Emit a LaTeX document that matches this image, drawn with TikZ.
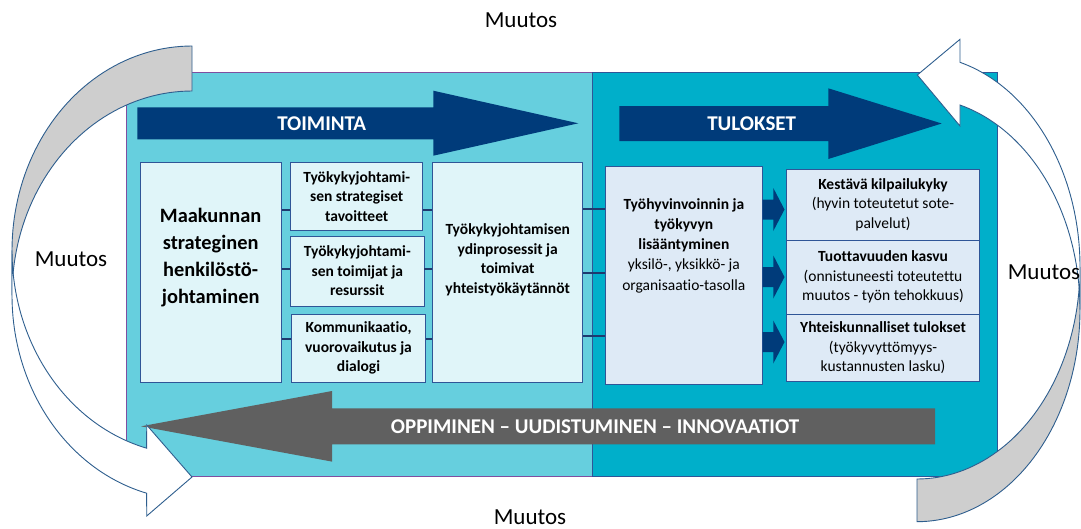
\documentclass[tikz,border=0pt]{standalone}
\usepackage{fontspec}
\setmainfont{Carlito}[Ligatures=NoCommon]
\definecolor{panelL}{HTML}{66CFDE}
\definecolor{panelR}{HTML}{00AFCA}
\definecolor{boxL}{HTML}{E0F5F9}
\definecolor{boxR}{HTML}{DEEAF6}
\definecolor{boxline}{HTML}{2F5597}
\definecolor{navy}{HTML}{003B7A}
\definecolor{stub}{HTML}{1F3A6E}
\definecolor{darkgray}{HTML}{606060}
\definecolor{cgray}{HTML}{CECECE}
\definecolor{cline}{HTML}{2E5E8E}
\definecolor{purpleline}{HTML}{7F4FA0}
\begin{document}
\begin{tikzpicture}[x=1pt,y=-1pt,
  lbox/.style={draw=boxline, line width=0.8pt, fill=boxL, inner sep=0pt, align=center},
  rbox/.style={draw=boxline, line width=0.8pt, fill=boxR, inner sep=0pt, align=center},
  boxfont/.style={font=\fontsize{15.5}{19.6}\selectfont},
  boxbold/.style={font=\fontsize{15.5}{19.6}\selectfont\bfseries},
  stubline/.style={draw=stub, line width=1.8pt},
  muutos/.style={font=\fontsize{23}{27}\selectfont, inner sep=0pt},
  curvefront/.style={fill=white, draw=cline, line width=0.9pt, line join=miter},
  curveback/.style={fill=cgray, draw=cline, line width=0.9pt, line join=miter}]
\useasboundingbox (0,0) rectangle (1081,528);

% two background panels
\node[draw=purpleline, line width=0.8pt, fill=panelL, minimum width=466, minimum height=404, inner sep=0pt] (pleft) at (359,274) {};
\node[draw=boxline, line width=1pt, fill=panelR, minimum width=405, minimum height=404, inner sep=0pt] (pright) at (794.5,274) {};

% header arrows
\fill[navy] (137.3,107.3) -- (433.3,107.3) -- (433.3,90.7) -- (578.3,123.3)
  -- (433.3,155.7) -- (433.3,139.3) -- (137.3,139.3) -- cycle;
\node[text=white, font=\fontsize{21}{25}\selectfont\bfseries] (toiminta) at (321.7,123.5) {TOIMINTA};
\fill[navy] (619.3,106) -- (828.3,106) -- (828.3,88.3) -- (941.7,123.5)
  -- (828.3,159) -- (828.3,141) -- (619.3,141) -- cycle;
\node[text=white, font=\fontsize{21}{25}\selectfont\bfseries] (tulokset) at (751.7,124) {TULOKSET};

% boxes of the left panel
\node[lbox, minimum width=141.3, minimum height=220] (big) at (210.65,272.7) {};
\node[font=\fontsize{20.4}{27}\selectfont\bfseries, align=center] (bigtxt) at (210.65,258)
  {Maakunnan\\strateginen\\henkilöstö-\\johtaminen};
\node[lbox, boxbold, minimum width=132, minimum height=67.3] (b1) at (356.7,196.35)
  {Työkykyjohtami-\\sen strategiset\\tavoitteet};
\node[lbox, boxbold, minimum width=133.3, minimum height=70] (b2) at (357.35,271)
  {Työkykyjohtami-\\sen toimijat ja\\resurssit};
\node[lbox, boxbold, minimum width=133.6, minimum height=68] (b3) at (358.5,348)
  {Kommunikaatio,\\vuorovaikutus ja\\dialogi};
\node[lbox, minimum width=150, minimum height=220] (ydin) at (507.7,272.7) {};
\node[font=\fontsize{15.5}{19.8}\selectfont\bfseries, align=center] (ydintxt) at (507.7,259.8)
  {Työkykyjohtamisen\\ydinprosessit ja\\toimivat\\yhteistyökäytännöt};

% boxes of the right panel
\node[rbox, minimum width=157.7, minimum height=217.3] (hyv) at (683.85,275.35) {};
\node[font=\fontsize{15.5}{20.3}\selectfont, align=center] (hyvtxt) at (683.85,245.5)
  {\textbf{Työhyvinvoinnin ja}\\\textbf{työkyvyn}\\\textbf{lisääntyminen}\\yksilö-, yksikkö- ja\\organisaatio-tasolla};
\node[rbox, boxfont, minimum width=192.6, minimum height=70.7] (r1) at (883,204.65)
  {\textbf{Kestävä kilpailukyky}\\(hyvin toteutetut sote-\\palvelut)};
\node[rbox, boxfont, minimum width=192.6, minimum height=74.3] (r2) at (883,277.15)
  {\textbf{Tuottavuuden kasvu}\\(onnistuneesti toteutettu\\muutos - työn tehokkuus)};
\node[rbox, boxfont, minimum width=192.6, minimum height=67.4] (r3) at (883,348)
  {\textbf{Yhteiskunnalliset tulokset}\\(työkyvyttömyys-\\kustannusten lasku)};

% levels of the short connectors
\coordinate (ya) at (0,210);
\coordinate (yb) at (0,269);
\coordinate (yc) at (0,339);
\coordinate (yd) at (0,209);
\coordinate (ye) at (0,273);
\coordinate (yf) at (0,336);
\draw[stubline] (big.east |- ya) -- (b1.west |- ya);
\draw[stubline] (big.east |- yb) -- (b2.west |- yb);
\draw[stubline] (big.east |- yc) -- (b3.west |- yc);
\draw[stubline] (b1.east |- ya) -- (ydin.west |- ya);
\draw[stubline] (b2.east |- yb) -- (ydin.west |- yb);
\draw[stubline] (b3.east |- yc) -- (ydin.west |- yc);
\draw[stubline] (ydin.east |- yd) -- (hyv.west |- yd);
\draw[stubline] (ydin.east |- ye) -- (hyv.west |- ye);
\draw[stubline] (ydin.east |- yf) -- (hyv.west |- yf);

% block arrows towards the results
\foreach \yy in {209.5,277,342}{
  \fill[navy] (762.7,\yy-10) -- (773.3,\yy-10) -- (773.3,\yy-21.5) -- (784.5,\yy)
    -- (773.3,\yy+21.5) -- (773.3,\yy+10) -- (762.7,\yy+10) -- cycle;
}

% feedback arrow along the bottom
\fill[darkgray] (935,408.3) -- (332,408.3) -- (332,391) -- (141,426.3)
  -- (332,461.6) -- (332,444.3) -- (935,444.3) -- cycle;
\node[text=white, font=\fontsize{21}{25}\selectfont\bfseries] (oppi) at (595,426.5)
  {OPPIMINEN – UUDISTUMINEN – INNOVAATIOT};

% curved arrow on the left
\path[curveback] plot[domain=270:180, samples=50] ({192+180*cos(\x)},{250.4+204.4*sin(\x)})
  -- plot[domain=180:270, samples=50] ({192+180*cos(\x)},{295.4+204.4*sin(\x)}) -- cycle;
\path[curvefront] plot[domain=180:104.58, samples=50] ({192+180*cos(\x)},{250.4+204.4*sin(\x)})
  -- (146.7,425) -- (192,477) -- (146.7,516)
  -- plot[domain=104.58:180, samples=50] ({192+180*cos(\x)},{295.4+204.4*sin(\x)}) -- cycle;

% curved arrow on the right
\path[curveback] plot[domain=90:0, samples=50] ({917+163*cos(\x)},{309.6+212.1*sin(\x)})
  -- plot[domain=0:90, samples=50] ({917+163*cos(\x)},{266.9+212.1*sin(\x)}) -- cycle;
\path[curvefront] plot[domain=0:-74.7, samples=50] ({917+163*cos(\x)},{309.6+212.1*sin(\x)})
  -- (960,126) -- (917.3,75) -- (960,39.3)
  -- plot[domain=-74.7:0, samples=50] ({917+163*cos(\x)},{266.9+212.1*sin(\x)}) -- cycle;

% labels of change
\node[muutos] (mtop) at (521,20) {Muutos};
\node[muutos] (mbottom) at (530,517) {Muutos};
\node[muutos] (mleft) at (71,259) {Muutos};
\node[muutos] (mright) at (1044,272) {Muutos};
\end{tikzpicture}
\end{document}
